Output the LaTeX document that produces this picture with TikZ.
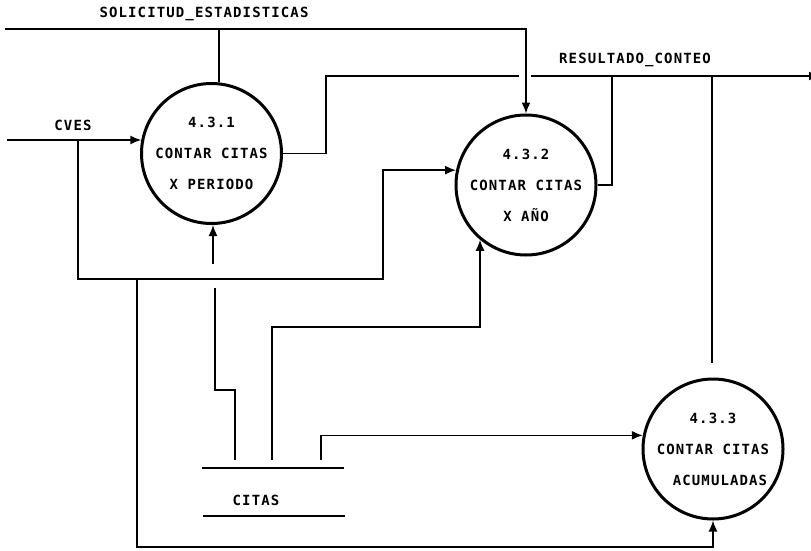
\documentclass[tikz,border=0pt]{standalone}
\usepackage{fontspec}
\newfontfamily\dfd[LetterSpace=8]{DejaVu Sans Mono Bold}
\usetikzlibrary{arrows.meta}
\begin{document}
\begin{tikzpicture}[x=1pt,y=-1pt,line width=1.6pt,
  proc/.style={circle,draw,line width=3pt,minimum size=140pt,inner sep=0pt,align=center,
    font=\dfd\fontsize{14}{31}\selectfont},
  lbl/.style={font=\dfd\fontsize{14}{16}\selectfont,inner sep=0pt},
  arr/.style={-{Latex[length=11pt,width=9pt]}}]
\useasboundingbox (0,0) rectangle (811,551);

% processes
\node[proc] (p1) at (211.5,153.5) {4.3.1\\CONTAR CITAS\\X PERIODO};
\node[proc] (p2) at (526,185) {4.3.2\\CONTAR CITAS\\X AÑO};
\node[proc] (p3) at (713,449) {4.3.3\\CONTAR CITAS\\\hspace*{14pt}ACUMULADAS};

% data store
\coordinate (st1) at (202,468); \coordinate (st2) at (344,468);
\coordinate (sb1) at (203,516); \coordinate (sb2) at (345,516);
\draw (st1) -- (st2);
\draw (sb1) -- (sb2);
\node[lbl] (tcitas) at (256,500) {CITAS};

% labels
\node[lbl] (tsol) at (204,14) {SOLICITUD\_ESTADISTICAS};
\node[lbl] (tcves) at (73,125) {CVES};
\node[lbl] (tres) at (635,60) {RESULTADO\_CONTEO};

% solicitud_estadisticas
\coordinate (s0) at (5,29);
\coordinate (s1) at (219,29);
\draw[arr] (s0) -| (p2.north);
\draw (s1) -- (s1 |- p1.north);

% resultado_conteo
\coordinate (o1) at (326,76);
\coordinate (g1) at (519,76);
\coordinate (g2) at (531,76);
\coordinate (out) at (820,76);
\draw (p1.east) -| (o1) -- (g1);
\draw[arr] (g2) -- (out);
\coordinate (o2) at (612,76);
\draw (p2.east) -| (o2);
\coordinate (v0) at (712,76);
\coordinate (v1) at (712,363);
\draw (v0) -- (v1);

% cves
\coordinate (cin) at (7,140);
\coordinate (j1) at (78,140);
\coordinate (c0) at (78,279);
\coordinate (c1) at (383,279);
\coordinate (j2) at (137,279);
\coordinate (c2) at (137,547);
\draw[arr] (cin) -- (cin -| p1.169);
\draw[arr] (j1) -- (c0) -- (c1) |- (p2.168);
\draw[arr] (j2) -- (c2) -| (p3.south);

% citas to 4.3.1
\coordinate (k0) at (235,460);
\coordinate (k1) at (215,390);
\coordinate (k3) at (215,288);
\coordinate (k2) at (213,264);
\draw (k0) |- (k1) -- (k3);
\draw[arr] (k2) -- (k2 |- p1.south);

% citas to 4.3.2
\coordinate (m0) at (272,460);
\coordinate (m1) at (272,327);
\draw[arr] (m0) -- (m1) -| (p2.230);

% citas to 4.3.3
\coordinate (n0) at (321,460);
\draw[arr] (n0) |- (p3.169);
\end{tikzpicture}
\end{document}
